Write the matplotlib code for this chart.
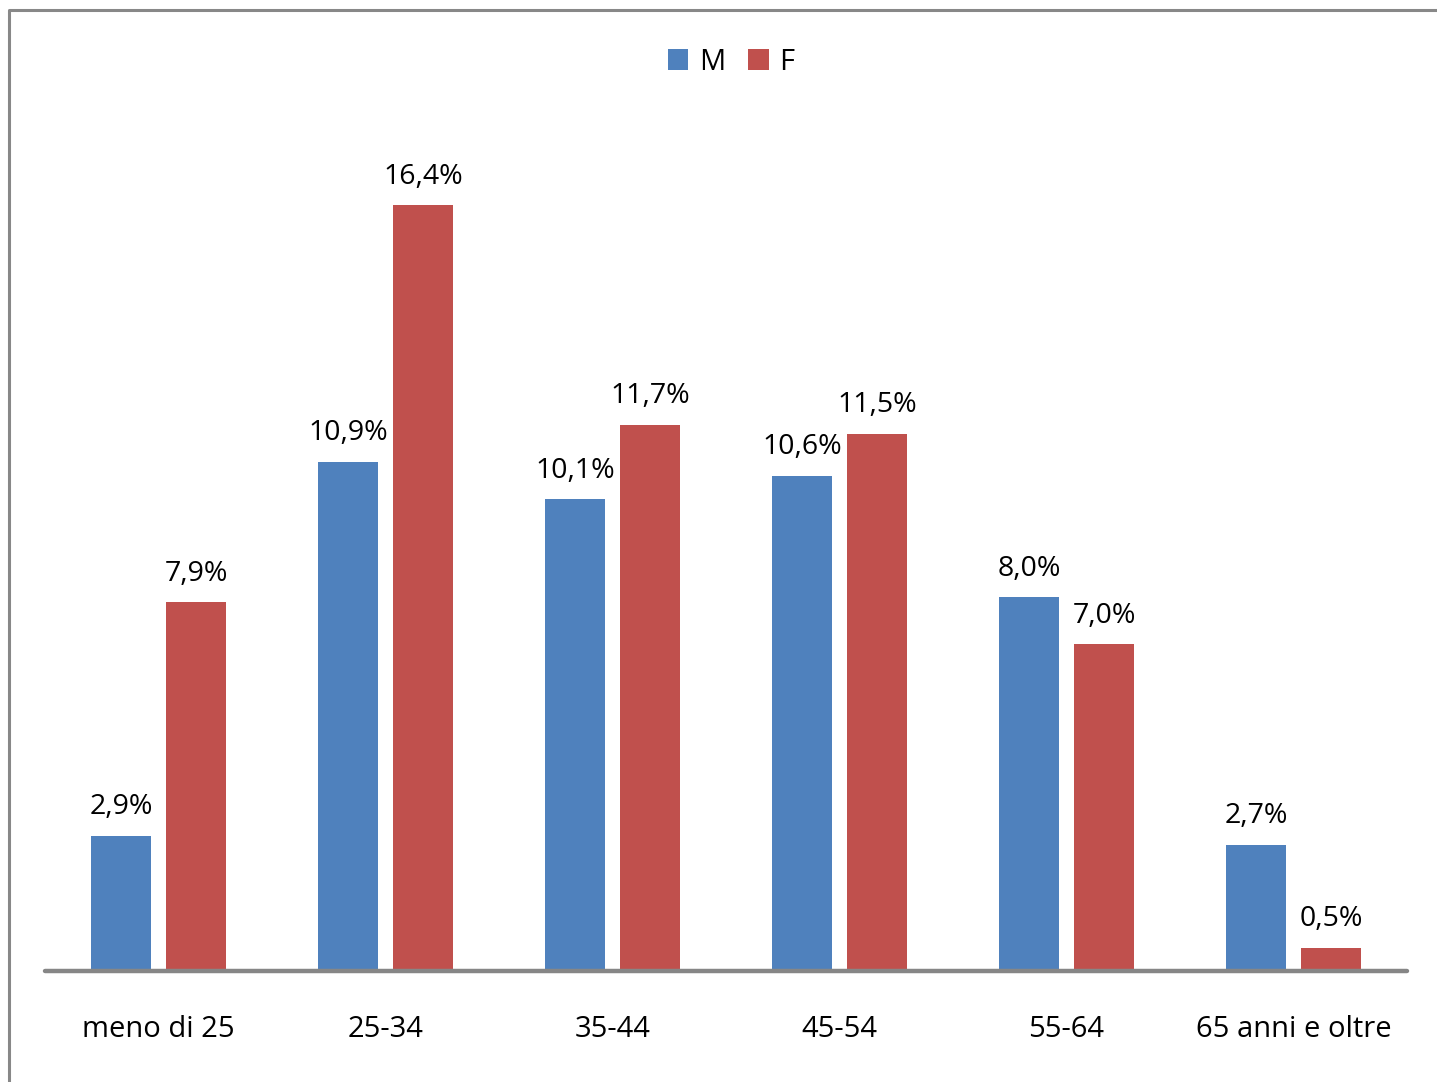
import matplotlib
matplotlib.use("Agg")
import matplotlib.pyplot as plt
from matplotlib.lines import Line2D
import numpy as np

categories = ["meno di 25", "25-34", "35-44", "45-54", "55-64", "65 anni e oltre"]
m_values = [2.9, 10.9, 10.1, 10.6, 8.0, 2.7]
f_values = [7.9, 16.4, 11.7, 11.5, 7.0, 0.5]
series_names = ["M", "F"]
colors = ["#4F81BD", "#C0504D"]

plt.rcParams['font.family'] = ['Open Sans', 'DejaVu Sans']

W, H = 1437, 1082
fig = plt.figure(figsize=(W / 100, H / 100), dpi=100)
ax = fig.add_axes([45 / W, (H - 971) / H, (1407 - 45) / W, (971 - 130.4) / H])

x = np.arange(len(categories))
off = 0.165
bw = 0.264
bm = ax.bar(x - off, m_values, bw, color=colors[0], label=series_names[0])
bf = ax.bar(x + off, f_values, bw, color=colors[1], label=series_names[1])

for bars, vals in ((bm, m_values), (bf, f_values)):
    for b, v in zip(bars, vals):
        ax.annotate(f"{v:.1f}%".replace(".", ","),
                    (b.get_x() + b.get_width() / 2, v),
                    xytext=(0, 15.5), textcoords="offset points",
                    ha="center", va="baseline", fontsize=20.5, color="black")

ax.set_xlim(-0.5, 5.5)
ax.set_ylim(0, 18)
ax.set_yticks([])
ax.set_xticks(x)
ax.set_xticklabels(categories, fontsize=21)
ax.tick_params(axis="x", length=0, pad=31.5)
for s in ax.spines.values():
    s.set_visible(False)
ax.axhline(0, color="#868686", lw=3.2, solid_capstyle="round", clip_on=False, zorder=3)

fig.legend(handles=[bm, bf], labels=series_names, loc="center",
           bbox_to_anchor=(731 / W, 1 - 62 / H), ncol=2, frameon=False,
           fontsize=21, handlelength=0.7, handleheight=0.7,
           handletextpad=0.35, columnspacing=0.8)

fig.add_artist(Line2D([9 / W, 9 / W, 1], [0, 1 - 10 / H, 1 - 10 / H],
                      transform=fig.transFigure, color="#888888", lw=2.2))

fig.savefig("out.png", dpi=100)
